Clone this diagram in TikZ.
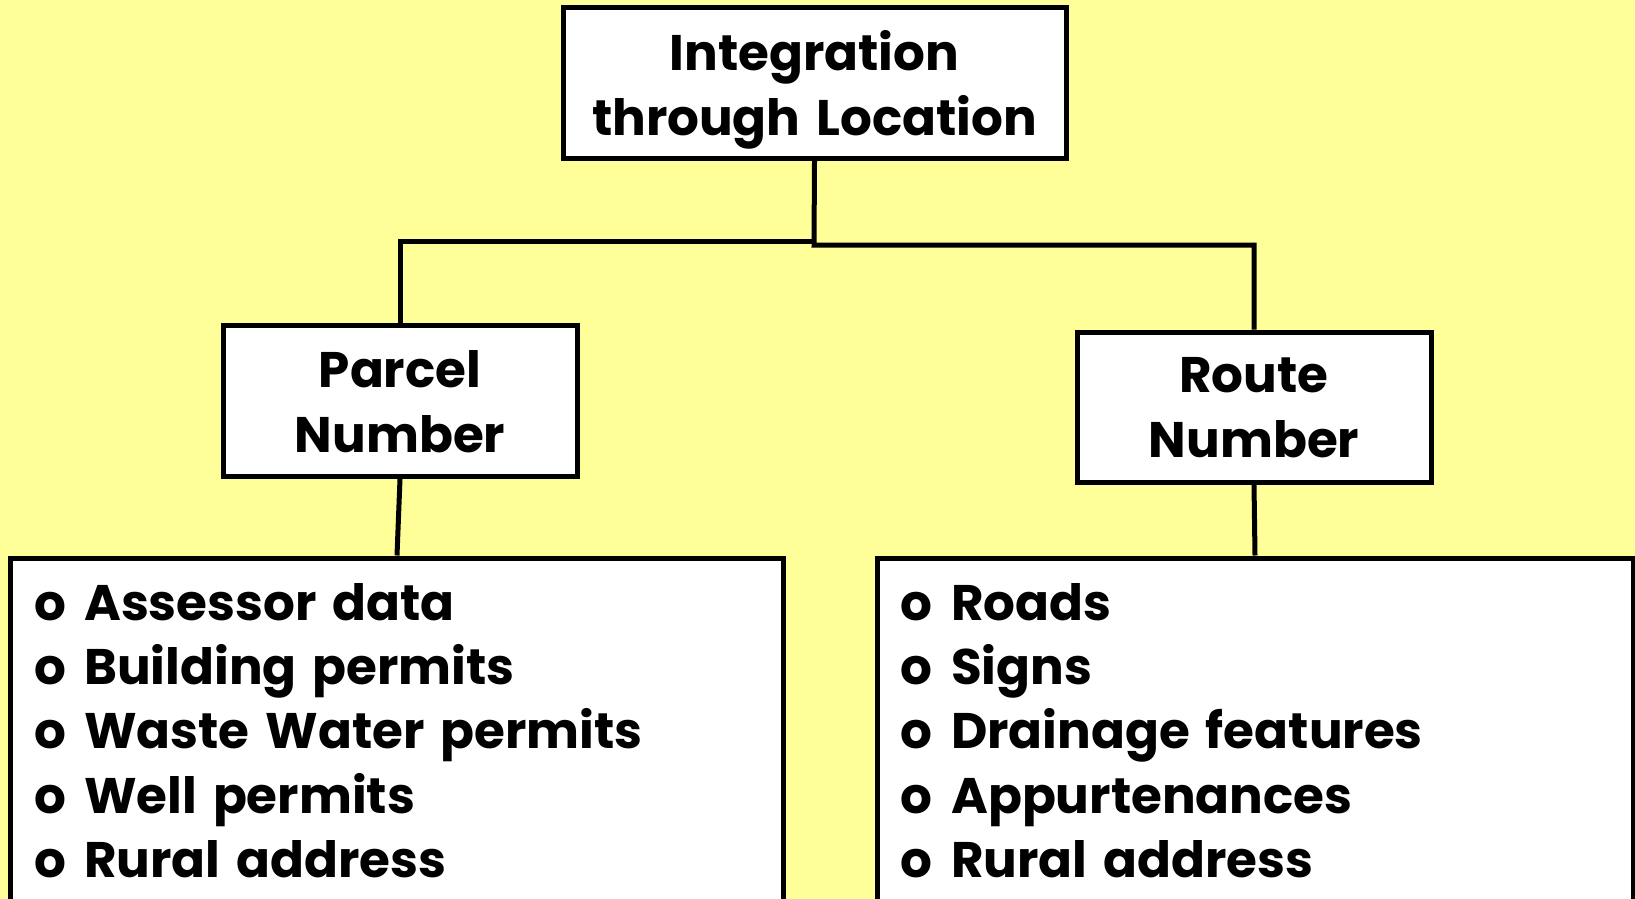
\documentclass[tikz,border=0pt]{standalone}
\usepackage{fontspec}
\setmainfont{Poppins}[WordSpace=1.5]
\begin{document}
\begin{tikzpicture}[x=1pt,y=-1pt,
  every node/.style={font=\bfseries\fontsize{50}{65}\selectfont},
  box/.style={draw=black, line width=5pt, fill=white, inner sep=0pt, align=center, text depth=0pt},
  link/.style={draw=black, line width=5pt},
  item/.style={anchor=base west, inner sep=0pt}]
\definecolor{paper}{RGB}{255,255,153}
\fill[paper] (0,0) rectangle (1635,899);
\useasboundingbox (0,0) rectangle (1635,899);

% hierarchy boxes
\node[box, minimum width=503pt, minimum height=151pt] (top) at (814.5,83) {Integration\\through Location};
\node[box, minimum width=354pt, minimum height=151pt] (parcel) at (400,401) {Parcel\\Number};
\node[box, minimum width=354pt, minimum height=150pt] (route) at (1254,407) {Route\\Number};
\node[box, minimum width=773pt, minimum height=382pt] (plist) at (397,749) {};
\node[box, minimum width=756pt, minimum height=382pt] (rlist) at (1255,749) {};

% list entries
\foreach \i/\t/\y in {1/Assessor data/620, 2/Building permits/684, 3/Waste Water permits/748, 4/Well permits/813, 5/Rural address/877}
  \node[item] (pa\i) at (34,\y) {\makebox[50pt][l]{o}\t};
\foreach \i/\t/\y in {1/Roads/620, 2/Signs/684, 3/Drainage features/748, 4/Appurtenances/813, 5/Rural address/877}
  \node[item] (ro\i) at (900,\y) {\makebox[51pt][l]{o}\t};

% connectors
\coordinate (jl) at (814,241);
\coordinate (jr) at (814,245);
\draw[link] (top.south) -- (jr) -| (route.north);
\draw[link] (jl) -| (parcel.north);
\draw[link] (parcel.south) -- (plist.north);
\draw[link] (route.south) -- (rlist.north);
\end{tikzpicture}
\end{document}
